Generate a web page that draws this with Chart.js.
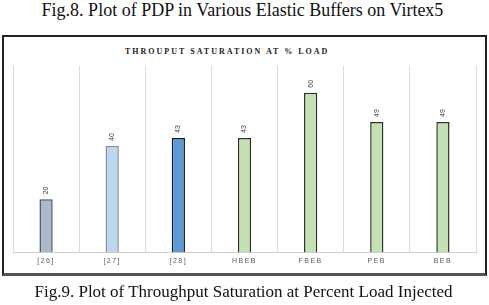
<!DOCTYPE html>
<html>
<head>
<meta charset="utf-8">
<script src="https://cdn.jsdelivr.net/npm/chart.js@4"></script>
<style>
  html, body { margin: 0; padding: 0; background: #fff; }
  body { width: 489px; height: 305px; position: relative; overflow: hidden; }
  .caption { position: absolute; left: 0; width: 489px; text-align: center; white-space: nowrap;
    font-family: "Liberation Serif", "Times New Roman", serif; color: #111; }
  #top { top: 1px; left: -2px; font-size: 18px; line-height: 18px; }
  #bottom { top: 283px; left: -1px; font-size: 17px; line-height: 17px; }
  #box { position: absolute; left: 2px; top: 35px; width: 481px; height: 236px;
    border: 2px solid #222; border-bottom: 3px solid #555; }
  #title { position: absolute; left: 125px; top: 47px; font-family: "Liberation Serif", serif;
    font-weight: bold; font-size: 8px; letter-spacing: 2px; color: #222; white-space: nowrap; }
  #wrap { position: absolute; left: 0; top: 0; width: 489px; height: 305px; }
</style>
</head>
<body>
<div class="caption" id="top">Fig.8. Plot of PDP in Various Elastic Buffers on Virtex5</div>
<div id="box"></div>
<div id="title">THROUPUT SATURATION AT % LOAD</div>
<div id="wrap"><canvas id="chart"></canvas></div>
<div class="caption" id="bottom">Fig.9. Plot of Throughput Saturation at Percent Load Injected</div>
<script>
const labels = ["[26]", "[27]", "[28]", "HBEB", "FBEB", "PEB", "BEB"];
const values = [20, 40, 43, 43, 60, 49, 49];
const fillColors = ["#ADB9CA", "#BDD7EE", "#5B9BD5", "#C5E0B4", "#C5E0B4", "#C5E0B4", "#C5E0B4"];
const edgeColors = ["#44546A", "#7F8C9E", "#1A1A1A", "#2B3326", "#2B3326", "#2B3326", "#2B3326"];

// spaced out tick labels like the original
const spacing = {
  id: "spacing",
  beforeDraw(chart) {
    chart.ctx.letterSpacing = "1.5px";
  },
  afterDraw(chart) {
    chart.ctx.letterSpacing = "0px";
  }
};

// rotated value labels above each bar
const valueLabels = {
  id: "valueLabels",
  afterDatasetsDraw(chart) {
    const ctx = chart.ctx;
    const meta = chart.getDatasetMeta(0);
    ctx.save();
    ctx.letterSpacing = "0px";
    ctx.font = "7px 'Liberation Sans', Arial, sans-serif";
    ctx.fillStyle = "#404040";
    ctx.textAlign = "left";
    ctx.textBaseline = "middle";
    meta.data.forEach((bar, i) => {
      ctx.save();
      ctx.translate(bar.x, bar.y - 5);
      ctx.rotate(-Math.PI / 2);
      ctx.fillText(String(values[i]), 0, 0);
      ctx.restore();
    });
    ctx.restore();
  }
};

new Chart(document.getElementById("chart"), {
  type: "bar",
  data: {
    labels: labels,
    datasets: [{
      data: values,
      backgroundColor: fillColors,
      borderColor: edgeColors,
      borderWidth: 1.5,
      borderSkipped: "bottom",
      barPercentage: 0.2,
      categoryPercentage: 1.0
    }]
  },
  options: {
    responsive: true,
    maintainAspectRatio: false,
    animation: false,
    layout: { padding: { left: 13, right: 13, top: 66, bottom: 36 } },
    plugins: {
      legend: { display: false },
      tooltip: { enabled: false }
    },
    scales: {
      x: {
        grid: { color: "#DCDCDC", drawTicks: false, offset: true },
        border: { display: true, color: "#D0D0D0" },
        ticks: {
          color: "#595959",
          padding: 4,
          font: { size: 7, family: "'Liberation Sans', Arial, sans-serif" }
        }
      },
      y: {
        display: false,
        min: 0,
        max: 70
      }
    }
  },
  plugins: [spacing, valueLabels]
});
</script>
</body>
</html>
